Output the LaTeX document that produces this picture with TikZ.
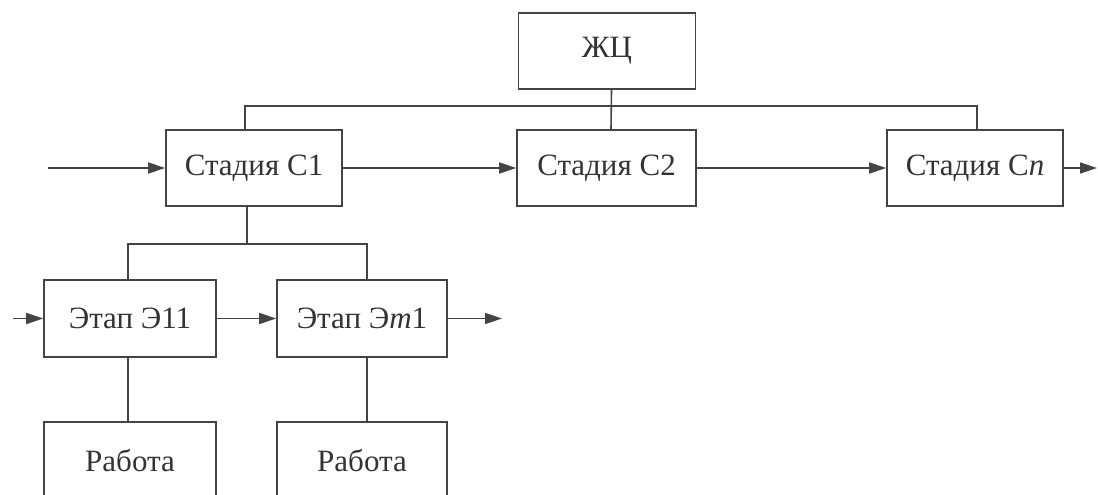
\documentclass[tikz,border=0pt]{standalone}
\usepackage{fontspec}
\setmainfont{Liberation Serif}
\usetikzlibrary{arrows.meta,calc}
\definecolor{ln}{HTML}{444444}
\definecolor{tx}{HTML}{333333}
\tikzset{
  box/.style={draw=ln, line width=1.6pt, rectangle, inner sep=0pt, minimum height=76pt, text=tx, font=\fontsize{31}{36}\selectfont},
  conn/.style={draw=ln, line width=1.6pt},
  arr/.style={conn, -{Triangle[length=17pt,width=11pt]}}
}
\begin{document}
\begin{tikzpicture}[x=1pt,y=-1pt]
\useasboundingbox (0,0) rectangle (1098,495);
\node[box, minimum width=177pt] (zc) at (607,51) {\raisebox{-2pt}{ЖЦ}};
\node[box, minimum width=176pt] (s1) at (254,168) {\raisebox{-2pt}{Стадия С1}};
\node[box, minimum width=179pt] (s2) at (606.5,168) {\raisebox{-2pt}{Стадия С2}};
\node[box, minimum width=176pt] (sn) at (975,168) {\raisebox{-2pt}{Стадия С\textit{n}}};
\node[box, minimum width=172pt, minimum height=77pt] (e11) at (130,318.5) {\raisebox{-1pt}{Этап Э11}};
\node[box, minimum width=170pt, minimum height=77pt] (em1) at (362,318.5) {\raisebox{-1pt}{Этап Э\textit{m}1}};
\node[box, minimum width=172pt, minimum height=77pt] (w1) at (130,460.5) {\raisebox{-2pt}{Работа}};
\node[box, minimum width=170pt, minimum height=77pt] (w2) at (362,460.5) {\raisebox{-2pt}{Работа}};
\coordinate (bus1) at (0,106);
\coordinate (bus2) at (0,244);
\coordinate (in1) at (48,168);
\coordinate (out1) at (1097,168);
\coordinate (in2) at (13,318.5);
\coordinate (out2) at (502,318.5);
% top tree
\draw[conn] ([xshift=4.5pt]zc.south) -- ([xshift=4.5pt]s2.north);
\draw[conn] ([xshift=-9pt]s1.north) -- ([xshift=-9pt]s1.north |- bus1) -- ([xshift=2pt]sn.north |- bus1) -- ([xshift=2pt]sn.north);
% lower tree
\draw[conn] ([xshift=-7pt]s1.south) -- ([xshift=-7pt]s1.south |- bus2);
\draw[conn] ([xshift=-2pt]e11.north) -- ([xshift=-2pt]e11.north |- bus2) -- ([xshift=5pt]em1.north |- bus2) -- ([xshift=5pt]em1.north);
\draw[conn] ([xshift=-2pt]e11.south) -- ([xshift=-2pt]w1.north);
\draw[conn] ([xshift=5pt]em1.south) -- ([xshift=5pt]w2.north);
% flow arrows
\draw[arr] (in1) -- (s1.west);
\draw[arr] (s1.east) -- (s2.west);
\draw[arr] (s2.east) -- (sn.west);
\draw[arr] (sn.east) -- (out1);
\draw[arr] (in2) -- (e11.west);
\draw[arr] (e11.east) -- (em1.west);
\draw[arr] (em1.east) -- (out2);
\end{tikzpicture}
\end{document}
